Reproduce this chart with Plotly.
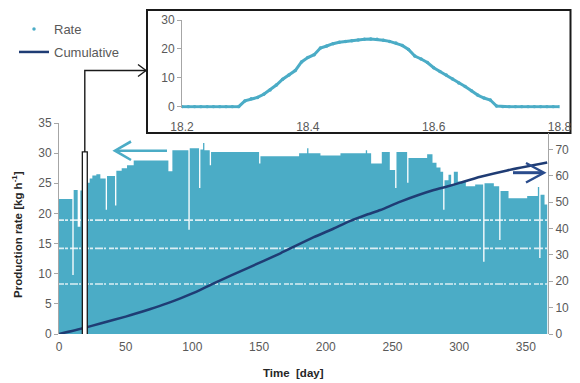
import plotly.graph_objects as go
import numpy as np

# ---------------- data ----------------
# Daily peak production rate [kg/h]: step levels starting at given day
rate_break_day = [0, 10, 11, 14, 16, 21, 23, 25, 28, 31, 35, 36, 42, 43, 47, 51, 56, 82, 85, 97,
                  98, 105, 106, 108, 109, 113, 114, 150, 151, 180, 186, 187, 196, 211, 230, 231,
                  234, 242, 248, 252, 253, 261, 262, 276, 280, 283, 286, 288, 289, 292, 294, 296,
                  299, 305, 312, 318, 319, 326, 330, 331, 337, 351, 359, 360, 361, 364]
rate_level = [22.4, 9.8, 23.9, 17.8, 23.8, 25.1, 25.8, 26.3, 26.5, 25.8, 20.6, 26.2, 21.3, 27.1,
              27.5, 28.0, 28.8, 27.0, 30.5, 17.3, 30.8, 24.2, 30.6, 31.7, 30.5, 28.0, 30.2, 28.3,
              29.5, 30.0, 30.8, 30.0, 29.6, 30.0, 30.5, 30.0, 28.3, 30.2, 27.2, 24.2, 30.2, 25.1,
              29.2, 29.8, 28.4, 27.6, 26.9, 20.6, 25.5, 26.4, 24.6, 26.9, 25.3, 24.5, 24.8, 12.0,
              25.0, 24.5, 15.6, 23.7, 22.5, 22.9, 24.4, 12.6, 23.1, 21.5]
n_days = 366

# horizontal data-gap streaks in the rate cloud [kg/h]
gap_levels = [8.3, 14.2, 18.9]

# cumulative production (right axis)
cum_day = [0, 18, 31, 50, 68, 81, 91, 106, 116, 141, 166, 191, 206, 218, 231, 241, 256, 281, 291,
           301, 316, 336, 366]
cum_val = [0, 2.2, 4.0, 6.6, 9.4, 11.6, 13.5, 16.7, 19.2, 24.9, 30.6, 36.7, 40.0, 42.8, 45.3,
           47.0, 50.2, 54.6, 55.9, 57.4, 59.6, 62.0, 65.0]

# inset: one day's rate profile (day 18.2 - 18.8)
inset_t = [18.20, 18.21, 18.22, 18.23, 18.24, 18.25, 18.26, 18.27, 18.28, 18.29,
           18.30, 18.31, 18.32, 18.33, 18.34, 18.35, 18.36, 18.37, 18.38, 18.39,
           18.40, 18.41, 18.42, 18.43, 18.44, 18.45, 18.46, 18.47, 18.48, 18.49,
           18.50, 18.51, 18.52, 18.53, 18.54, 18.55, 18.56, 18.57, 18.58, 18.59,
           18.60, 18.61, 18.62, 18.63, 18.64, 18.65, 18.66, 18.67, 18.68, 18.69,
           18.70, 18.71, 18.72, 18.73, 18.74, 18.75, 18.76, 18.77, 18.78, 18.79, 18.80]
inset_rate = [0, 0, 0, 0, 0, 0, 0, 0, 0, 0,
              2.0, 2.7, 3.2, 4.3, 5.8, 7.5, 9.5, 11.0, 12.5, 15.5,
              17.0, 18.0, 20.3, 21.0, 21.8, 22.3, 22.6, 22.8, 23.1, 23.3,
              23.4, 23.3, 23.0, 22.6, 22.0, 21.2, 19.8, 17.5, 16.5, 15.3,
              13.5, 12.2, 11.0, 9.6, 8.2, 7.0, 5.5, 4.0, 3.0, 2.3,
              0.2, 0, 0, 0, 0, 0, 0, 0, 0, 0, 0]

x_ticks = [0, 50, 100, 150, 200, 250, 300, 350]
y_ticks = [0, 5, 10, 15, 20, 25, 30, 35]
y2_ticks = [0, 10, 20, 30, 40, 50, 60, 70]
inset_x_ticks = [18.2, 18.4, 18.6, 18.8]
inset_y_ticks = [0, 10, 20, 30]

# ---------------- build ----------------
days = np.arange(n_days)
idx = np.searchsorted(rate_break_day, days, side="right") - 1
peaks = np.array(rate_level)[idx]
step_x = np.append(days, n_days)
step_y = np.append(peaks, peaks[-1])

TEAL = "#4BACC6"
NAVY = "#1F3C74"
GRAY = "#A6A6A6"
TXT = "#595959"
FONT = "Liberation Sans, Arial, sans-serif"

OFF = 8                        # page body margin of the html page
W, H = 580 - 2 * OFF, 383 - OFF


def px(x):
    # screen x (window pixels) -> paper fraction
    return (x - OFF) / W


def py(y):
    # screen y (window pixels) -> paper fraction
    return (H - (y - OFF)) / H


fig = go.Figure()

fig.add_trace(go.Scatter(x=step_x, y=step_y, mode="lines", xaxis="x", yaxis="y",
                         line=dict(width=0, shape="hv", color=TEAL), fill="tozeroy",
                         fillcolor=TEAL, showlegend=False, hoverinfo="skip"))
for i, lvl in enumerate(gap_levels):
    fig.add_trace(go.Scatter(x=[0, n_days], y=[lvl, lvl], mode="lines", xaxis="x", yaxis="y",
                             line=dict(color="rgba(255,255,255,0.8)", width=1.8 if i else 1.4,
                                       dash="5px,1px,3px,2px,8px,1px,2px,3px"),
                             showlegend=False, hoverinfo="skip"))
fig.add_trace(go.Scatter(x=cum_day, y=cum_val, mode="lines", xaxis="x", yaxis="y2",
                         name="Cumulative", legend="legend2",
                         line=dict(color=NAVY, width=2.5, shape="spline", smoothing=0.5)))

fig.add_trace(go.Scatter(x=inset_t, y=inset_rate, mode="lines", xaxis="x2", yaxis="y3",
                         line=dict(color=TEAL, width=3), showlegend=False))
fig.add_trace(go.Scatter(x=inset_t, y=inset_rate, mode="markers", xaxis="x2", yaxis="y3",
                         marker=dict(color=TEAL, size=3.5), name="Rate", legend="legend"))

tickfont = dict(family=FONT, size=12, color=TXT)

shapes = [
    # inset frame
    dict(type="rect", xref="paper", yref="paper", x0=px(147), x1=px(570.5), y0=py(133),
         y1=py(10), line=dict(color="#1A1A1A", width=2), fillcolor="white", layer="below"),
    # highlight rectangle around day 18
    dict(type="rect", xref="x", yref="y", x0=17.5, x1=21.2, y0=-1, y1=30.2,
         line=dict(color="#1A1A1A", width=1.3), fillcolor="white", layer="above"),
    # connector to inset
    dict(type="path", xref="paper", yref="paper",
         path=f"M{px(84.8)},{py(152)} L{px(84.8)},{py(70.5)} L{px(146)},{py(70.5)}",
         line=dict(color="#1A1A1A", width=1.4)),
    dict(type="path", xref="paper", yref="paper",
         path=f"M{px(138)},{py(64.5)} L{px(146)},{py(70.5)} L{px(138)},{py(76.5)}",
         line=dict(color="#1A1A1A", width=1.4)),
    # teal arrow -> left axis
    dict(type="path", xref="paper", yref="paper",
         path=f"M{px(167)},{py(150.7)} L{px(116)},{py(150.7)}",
         line=dict(color=TEAL, width=2.6)),
    dict(type="path", xref="paper", yref="paper",
         path=f"M{px(131)},{py(141.5)} L{px(115)},{py(150.7)} L{px(131)},{py(160)}",
         line=dict(color=TEAL, width=2.6)),
    # navy arrow -> right axis
    dict(type="path", xref="paper", yref="paper",
         path=f"M{px(513)},{py(172.7)} L{px(543)},{py(172.7)}",
         line=dict(color="#2A4C8C", width=3)),
    dict(type="path", xref="paper", yref="paper",
         path=f"M{px(526)},{py(163)} L{px(544)},{py(172.7)} L{px(526)},{py(182.5)}",
         line=dict(color="#2A4C8C", width=2.4)),
]

annotations = [
    dict(text="<b>Production rate [kg h<sup>-1</sup>]</b>", xref="paper", yref="paper",
         x=px(17), y=py(235), textangle=-90, showarrow=False, xanchor="center", yanchor="middle",
         font=dict(family=FONT, size=11.5, color="#262626")),
    dict(text="<b>Time\u00a0 [day]</b>", xref="paper", yref="paper", x=px(293), y=py(373),
         showarrow=False, xanchor="center", yanchor="middle",
         font=dict(family=FONT, size=11.5, color="#262626")),
]

fig.update_layout(
    width=W, height=H,
    margin=dict(l=0, r=0, t=0, b=0, pad=0, autoexpand=False),
    paper_bgcolor="white", plot_bgcolor="rgba(0,0,0,0)",
    font=dict(family=FONT, size=12, color=TXT),
    xaxis=dict(domain=[px(59), px(548)], range=[0, 366.6], tickvals=x_ticks, showgrid=False,
               zeroline=False, showline=False, ticks="", anchor="y", tickfont=tickfont,
               ticklabelstandoff=4),
    yaxis=dict(domain=[py(334), py(123)], range=[0, 35], tickvals=y_ticks, showgrid=False,
               zeroline=False, showline=True, linecolor=GRAY, linewidth=1, ticks="outside",
               ticklen=4, tickcolor=GRAY, anchor="x", tickfont=tickfont),
    yaxis2=dict(domain=[py(334), py(133)], range=[0, 76.21], tickvals=y2_ticks, showgrid=False,
                zeroline=False, showline=True, linecolor=GRAY, linewidth=1, ticks="outside",
                ticklen=4, tickcolor=GRAY, anchor="x", side="right", tickfont=tickfont),
    xaxis2=dict(domain=[px(182), px(559.5)], range=[18.2, 18.8], tickvals=inset_x_ticks,
                tickformat=".1f", showgrid=False, zeroline=False, showline=False, ticks="",
                anchor="y3", tickfont=tickfont, ticklabelstandoff=10,
                ticklabeloverflow="allow"),
    yaxis3=dict(domain=[py(108.4), py(20)], range=[-0.6, 30], tickvals=inset_y_ticks,
                showgrid=False, zeroline=False, showline=True, linecolor=GRAY, ticks="outside",
                ticklen=4, tickcolor=GRAY, anchor="x2", tickfont=tickfont),
    legend=dict(x=px(14), y=py(29), xanchor="left", yanchor="middle", bgcolor="rgba(0,0,0,0)",
                font=dict(family=FONT, size=13, color=TXT)),
    legend2=dict(x=px(14), y=py(52), xanchor="left", yanchor="middle", bgcolor="rgba(0,0,0,0)",
                 font=dict(family=FONT, size=13, color=TXT)),
    shapes=shapes,
    annotations=annotations,
    showlegend=True,
)

fig.write_html("out.html")
